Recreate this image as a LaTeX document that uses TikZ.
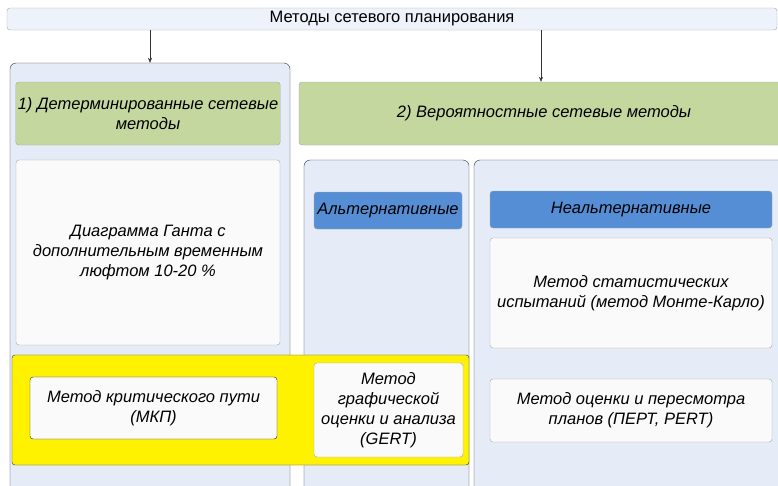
\documentclass[tikz,border=0pt]{standalone}
\usepackage{fontspec}
\setmainfont{Liberation Sans}
\usetikzlibrary{positioning,arrows.meta}
\definecolor{panelfill}{HTML}{E6ECF7}
\definecolor{headfill}{HTML}{EEF2FA}
\definecolor{greenfill}{HTML}{C4D79F}
\definecolor{bluefill}{HTML}{558ED5}
\definecolor{cardfill}{HTML}{FAFAFA}
\definecolor{softline}{HTML}{A6A6A6}

\begin{document}
\begin{tikzpicture}[
  x=1pt, y=-1pt,
  font=\fontsize{16.5}{20}\selectfont,
  every node/.style={align=center, inner sep=2pt},
  panel/.style={draw=black!80, fill=panelfill, rounded corners=6pt},
  headbox/.style={draw=softline, fill=headfill, rounded corners=3pt},
  greenbox/.style={draw=softline, fill=greenfill, rounded corners=3pt, font=\fontsize{16.5}{20}\selectfont\itshape},
  bluebox/.style={draw=softline, fill=bluefill, rounded corners=3pt, font=\fontsize{16.5}{20}\selectfont\itshape},
  card/.style={draw=softline, fill=cardfill, rounded corners=3pt, font=\fontsize{16.5}{20}\selectfont\itshape},
  arr/.style={-{Stealth[length=5pt,width=4pt]}, black!80},
]
\useasboundingbox (0,0) rectangle (778,485);
\clip (0,0) rectangle (778,485);

  % Top of the scheme
  \node[headbox, minimum width=770, minimum height=22] (top) at (392,19) {Методы сетевого планирования};

  % Containers
  \node[panel, minimum width=280, minimum height=440] (leftpanel) at (150,283) {};
  \node[panel, minimum width=165, minimum height=340] (midpanel) at (386.5,330) {};
  \node[panel, minimum width=320, minimum height=340] (rightpanel) at (634,330) {};

  % Two groups of methods
  \node[greenbox, minimum width=264, minimum height=63] (det) at (148,113.5) {1) Детерминированные сетевые\\методы};
  \node[greenbox, minimum width=490, minimum height=63] (prob) at (544,113.5) {2) Вероятностные сетевые методы};

  \coordinate (probarrow) at (541,0);
  \draw[arr] (top.south -| leftpanel.north) -- (leftpanel.north);
  \draw[arr] (top.south -| probarrow) -- (prob.north -| probarrow);

  \node[card, minimum width=264, minimum height=185] (gantt) at (148,252.5) {Диаграмма Ганта с\\дополнительным временным\\люфтом 10-20 \%};

  \node[bluebox, minimum width=148, minimum height=37] (alt) at (388,210.5) {Альтернативные};
  \node[bluebox, minimum width=282, minimum height=37] (nonalt) at (631,209.5) {Неальтернативные};
  \node[card, minimum width=282, minimum height=110] (monte) at (631,293) {Метод статистических\\испытаний (метод Монте-Карло)};
  \node[card, minimum width=282, minimum height=63] (pert) at (631,410.5) {Метод оценки и пересмотра\\планов (ПЕРТ, PERT)};

  % Highlighted methods
  \node[draw=black!80, fill=yellow, rounded corners=3pt, minimum width=457, minimum height=110] (hl) at (240.5,410) {};
  \node[card, draw=black!85, minimum width=247, minimum height=62] (cpm) at (153.5,408) {Метод критического пути\\(МКП)};
  \node[card, minimum width=149, minimum height=94] (gert) at (388.5,410) {Метод\\графической\\оценки и анализа\\(GERT)};
\end{tikzpicture}
\end{document}
